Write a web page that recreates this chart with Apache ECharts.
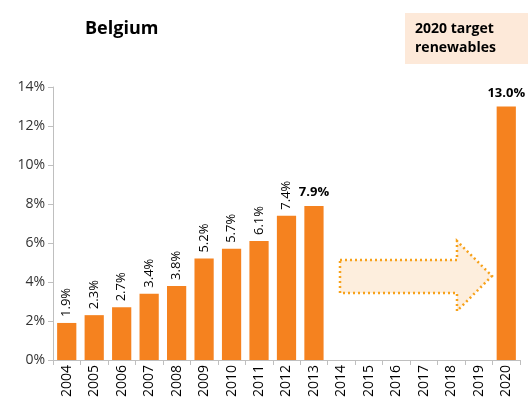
<!DOCTYPE html>
<html>
<head>
<meta charset="utf-8">
<script src="https://cdn.jsdelivr.net/npm/echarts@6/dist/echarts.min.js"></script>
<style>
  html, body { margin: 0; padding: 0; background: #fff; }
  #chart { width: 528px; height: 403px; }
</style>
</head>
<body>
<div id="chart"></div>
<script>
const years = ['2004', '2005', '2006', '2007', '2008', '2009', '2010', '2011', '2012', '2013',
  '2014', '2015', '2016', '2017', '2018', '2019', '2020'];
const share = [1.9, 2.3, 2.7, 3.4, 3.8, 5.2, 5.7, 6.1, 7.4, 7.9,
  null, null, null, null, null, null, 13.0];
const boldYears = ['2013', '2020'];

const font = 'Open Sans';
const orange = '#f5821f';

const chart = echarts.init(document.getElementById('chart'));

const seriesData = share.map(function (v, i) {
  if (boldYears.indexOf(years[i]) >= 0) {
    return {
      value: v,
      label: {
        rotate: 0, align: 'center', verticalAlign: 'bottom',
        fontWeight: 'bold', distance: 7
      }
    };
  }
  return v;
});

chart.setOption({
  animation: false,
  textStyle: { fontFamily: font },
  grid: { left: 53, right: 8, top: 87, bottom: 43 },
  xAxis: {
    type: 'category',
    data: years,
    axisLine: { lineStyle: { color: '#bfbfbf' } },
    axisTick: { show: true, length: 5, lineStyle: { color: '#bfbfbf' } },
    axisLabel: { rotate: 90, color: '#000', fontSize: 14, fontFamily: font, margin: 5 }
  },
  yAxis: {
    type: 'value',
    min: 0, max: 14, interval: 2,
    splitLine: { show: false },
    axisLine: { show: true, lineStyle: { color: '#bfbfbf' } },
    axisTick: { show: true, length: 5, lineStyle: { color: '#bfbfbf' } },
    axisLabel: { formatter: '{value}%', color: '#333', fontSize: 14, fontFamily: font, margin: 8 }
  },
  series: [{
    type: 'bar',
    data: seriesData,
    barCategoryGap: '30%',
    itemStyle: { color: orange },
    label: {
      show: true,
      position: 'top',
      rotate: 90,
      align: 'left',
      verticalAlign: 'middle',
      distance: 6,
      color: '#000',
      fontSize: 13,
      fontFamily: font,
      formatter: function (p) { return p.value.toFixed(1) + '%'; }
    }
  }],
  graphic: [
    {
      type: 'text', left: 85, top: 20,
      style: { text: 'Belgium', font: 'bold 18px "Open Sans"', fill: '#000' }
    },
    {
      type: 'group', left: 405, top: 13,
      children: [
        { type: 'rect', shape: { x: 0, y: 0, width: 123, height: 51 }, style: { fill: '#fde9d9' } },
        {
          type: 'text', x: 10, y: 7,
          style: { text: '2020 target\nrenewables', font: 'bold 14px "Open Sans"', fill: '#000', lineHeight: 19 }
        }
      ]
    },
    {
      type: 'polygon',
      shape: {
        points: [[340, 260], [457, 260], [457, 241], [492, 276], [457, 311], [457, 293], [340, 293]]
      },
      style: { fill: '#fdeedd', stroke: '#f7a21b', lineWidth: 2.5, lineDash: [2, 3] }
    }
  ]
});
</script>
</body>
</html>
